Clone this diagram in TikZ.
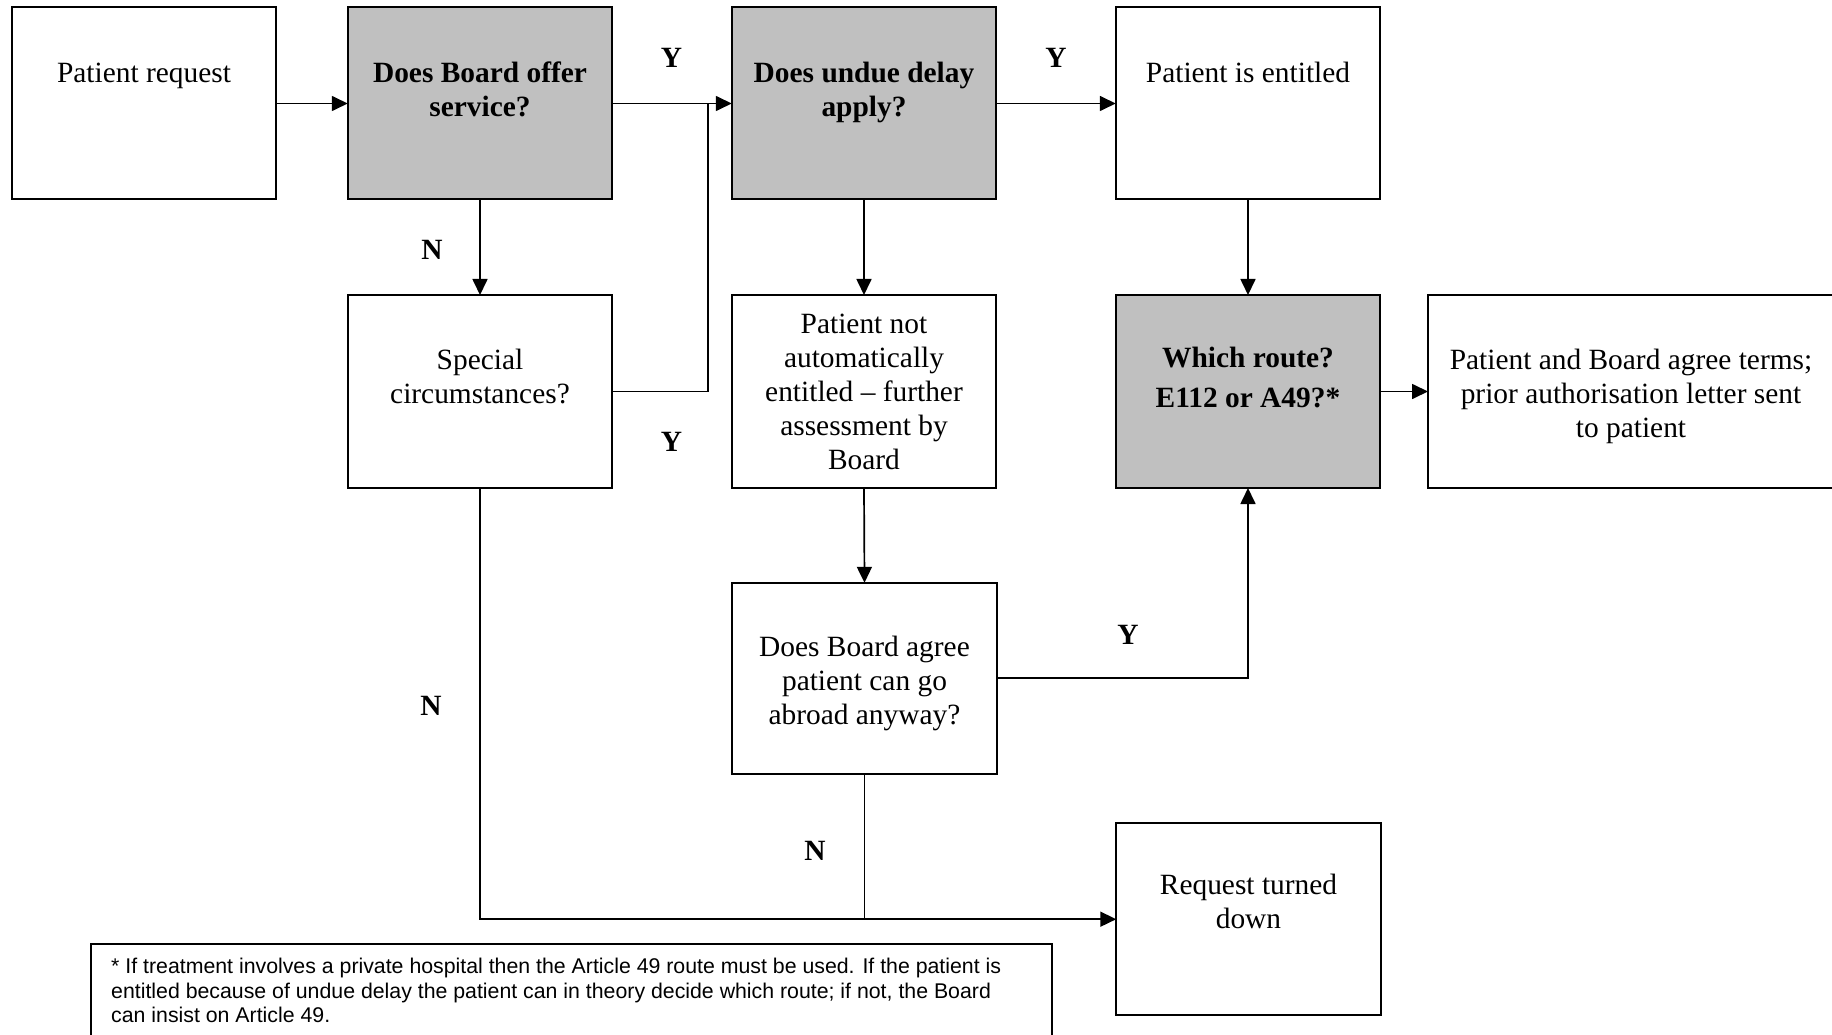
\documentclass[tikz,border=0pt]{standalone}
\usepackage{fontspec}
\setmainfont{Liberation Serif}
\newfontfamily\notefont{Liberation Sans}
\usetikzlibrary{arrows.meta}
\definecolor{boxgray}{RGB}{192,192,192}
\begin{document}
\begin{tikzpicture}[x=1pt,y=-1pt,
  box/.style={draw=black, line width=2pt, rectangle, inner sep=0pt, outer sep=0pt, minimum width=264.5pt, minimum height=192pt},
  greybox/.style={box, fill=boxgray},
  txt/.style={align=center, anchor=base, inner sep=0pt, font=\fontsize{29.4}{34}\selectfont},
  btxt/.style={align=center, anchor=base, inner sep=0pt, font=\fontsize{29.4}{34}\selectfont\bfseries},
  lbl/.style={anchor=base, inner sep=0pt, font=\fontsize{29.4}{34}\selectfont\bfseries},
  conn/.style={line width=1.7pt},
  arr/.style={conn, -{Triangle[length=16pt,width=15pt]}}
]
\path[use as bounding box, clip] (0,0) rectangle (1832,1035);
\fill[white] (0,0) rectangle (1832,1035);

% boxes
\node[box] (pr) at (144,103.5) {};
\node[greybox] (board) at (480,103.5) {};
\node[greybox] (undue) at (864,103.5) {};
\node[box] (ent) at (1248,103.5) {};
\node[box, minimum height=193pt] (spec) at (480,391.5) {};
\node[box, minimum height=193pt] (notauto) at (864,391.5) {};
\node[greybox, minimum height=193pt] (which) at (1248,391.5) {};
\node[box, minimum height=193pt, minimum width=422pt] (pab) at (1639,391.5) {};
\node[box, minimum height=191pt] (agree) at (864.5,678.3) {};
\node[box, minimum height=191.5pt] (down) at (1248.5,919.2) {};
\node[box, minimum height=106pt, minimum width=961pt] (note) at (571.5,997) {};

% texts (anchor base = baseline of the last line)
\node[txt] (pr-t) at (144,82.5) {Patient request};
\node[btxt] (board-t) at (480,116.5) {Does Board offer\\service?};
\node[btxt] (undue-t) at (864,116.5) {Does undue delay\\apply?};
\node[txt] (ent-t) at (1248,82.5) {Patient is entitled};
\node[txt] (spec-t) at (480,403) {Special\\circumstances?};
\node[txt] (notauto-t) at (864,469) {Patient not\\automatically\\entitled -- further\\assessment by\\Board};
\node[btxt, font=\fontsize{29.4}{40}\selectfont\bfseries] (which-t) at (1248,407) {Which route?\\E112 or A49?*};
\node[txt] (pab-t) at (1631,437.5) {Patient and Board agree terms;\\prior authorisation letter sent\\to patient};
\node[txt] (agree-t) at (864.5,724) {Does Board agree\\patient can go\\abroad anyway?};
\node[txt] (down-t) at (1248.5,928.5) {Request turned\\down};
\node[anchor=base west, align=left, inner sep=0pt, font=\notefont\fontsize{21.3}{24.5}\selectfont] (note-t) at (111,1022.5)
  {* If treatment involves a private hospital then the Article 49 route must be used. If the patient is\\
   entitled because of undue delay the patient can in theory decide which route; if not, the Board\\
   can insist on Article 49.};

% connectors
\coordinate (j1) at (708,103.5);
\draw[arr] (pr.east) -- (board.west);
\draw[arr] (board.east) -- (undue.west);
\draw[conn] (spec.east) -| (j1);
\draw[arr] (board.south) -- (spec.north);
\draw[arr] (undue.east) -- (ent.west);
\draw[arr] (undue.south) -- (notauto.north);
\draw[arr] (ent.south) -- (which.north);
\draw[arr] (which.east) -- (pab.west);
\draw[arr] (notauto.south) -- (agree.north);
\draw[arr] (agree.east) -| (which.south);
\draw[arr] (spec.south) |- (down.west);
\draw[conn] (agree.south) -- (agree.south |- down.west);

% labels
\node[lbl] (y1) at (671.5,68) {Y};
\node[lbl] (y2) at (1056,68) {Y};
\node[lbl] (y3) at (671.5,451) {Y};
\node[lbl] (n1) at (432,260) {N};
\node[lbl] (y4) at (1128,644) {Y};
\node[lbl] (n2) at (431,715.5) {N};
\node[lbl] (n3) at (815,860.5) {N};
\end{tikzpicture}
\end{document}
